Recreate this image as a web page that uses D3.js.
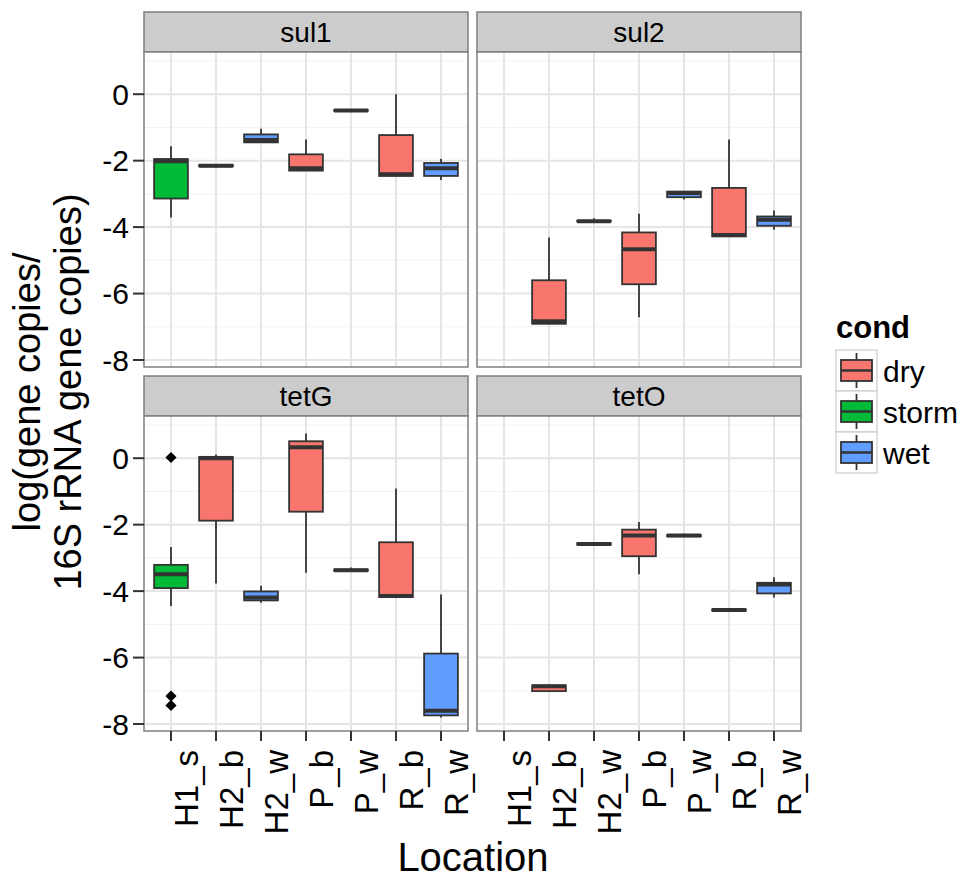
<!DOCTYPE html>
<html>
<head>
<meta charset="utf-8">
<script src="https://cdn.jsdelivr.net/npm/d3@7"></script>
<style>
  body { margin: 0; background: #fff; }
  text { font-family: "Liberation Sans", Arial, sans-serif; fill: #000; }
</style>
</head>
<body>
<svg id="chart" width="967" height="880"></svg>
<script>
// facets, categories and legend
const genes = ['sul1', 'sul2', 'tetG', 'tetO'];
const locations = ['H1_s', 'H2_b', 'H2_w', 'P_b', 'P_w', 'R_b', 'R_w'];
const locationCond = ['storm', 'dry', 'wet', 'dry', 'wet', 'dry', 'wet'];
const conds = ['dry', 'storm', 'wet'];
const condColors = ['#F8766D', '#00BA38', '#619CFF'];
const yTicks = [0, -2, -4, -6, -8];
const yMinor = [1, -1, -3, -5, -7];

// box stats per location: [lower whisker, q1, median, q3, upper whisker]
const sul1Stats = [
  [-3.71, -3.14, -2.02, -1.95, -1.57],
  [-2.17, -2.17, -2.15, -2.13, -2.13],
  [-1.45, -1.45, -1.38, -1.21, -1.04],
  [-2.30, -2.30, -2.23, -1.81, -1.36],
  [-0.50, -0.50, -0.49, -0.48, -0.48],
  [-2.46, -2.46, -2.41, -1.23, 0.00],
  [-2.58, -2.46, -2.23, -2.07, -1.94]
];
const sul2Stats = [
  null,
  [-6.91, -6.91, -6.83, -5.60, -4.31],
  [-3.83, -3.83, -3.82, -3.81, -3.73],
  [-6.71, -5.72, -4.67, -4.16, -3.60],
  [-3.17, -3.10, -2.97, -2.93, -2.93],
  [-4.28, -4.28, -4.24, -2.82, -1.36],
  [-4.08, -3.96, -3.78, -3.68, -3.50]
];
const tetGStats = [
  [-4.45, -3.91, -3.49, -3.21, -2.67],
  [-3.77, -1.88, 0.00, 0.04, 0.11],
  [-4.35, -4.28, -4.19, -4.01, -3.84],
  [-3.45, -1.61, 0.33, 0.51, 0.74],
  [-3.39, -3.39, -3.37, -3.35, -3.29],
  [-4.18, -4.18, -4.15, -2.53, -0.91],
  [-7.80, -7.74, -7.60, -5.88, -4.10]
];
const tetOStats = [
  null,
  [-7.04, -7.01, -6.86, -6.84, -6.84],
  [-2.60, -2.60, -2.58, -2.56, -2.56],
  [-3.49, -2.95, -2.33, -2.15, -1.92],
  [-2.35, -2.35, -2.33, -2.31, -2.27],
  [-4.59, -4.59, -4.57, -4.55, -4.55],
  [-4.19, -4.07, -3.80, -3.75, -3.58]
];
const tetGOutliersH1s = [0.02, -7.16, -7.44];

const statsByGene = [sul1Stats, sul2Stats, tetGStats, tetOStats];
const outliersByGene = [[], [], tetGOutliersH1s.map(v => ({loc: 'H1_s', v})), []];

const svg = d3.select('#chart');
const color = d3.scaleOrdinal().domain(conds).range(condColors);

const colX = [144, 477], panelW = 324;
const rowY = [12, 376], stripH = 40, panelH = 315;
const outline = '#333333';
const dot = d3.symbol().type(d3.symbolSquare).size(62);

genes.forEach((gene, gi) => {
  const col = gi % 2, row = Math.floor(gi / 2);
  const x0 = colX[col], top = rowY[row] + stripH, bottom = top + panelH;
  const x = d3.scalePoint().domain(locations).range([x0, x0 + panelW]).padding(0.6);
  const y = d3.scaleLinear().domain([-8.21, 1.27]).range([bottom, top]);
  const bw = x.step() * 0.75;
  const g = svg.append('g');

  // strip
  g.append('rect').attr('x', x0).attr('y', rowY[row]).attr('width', panelW).attr('height', stripH)
    .attr('fill', '#cccccc').attr('stroke', '#7f7f7f').attr('stroke-width', 1.5);
  g.append('text').attr('x', x0 + panelW / 2).attr('y', rowY[row] + stripH / 2 + 10)
    .attr('text-anchor', 'middle').style('font-size', '28px').text(gene);

  // panel + grid
  g.append('rect').attr('x', x0).attr('y', top).attr('width', panelW).attr('height', panelH).attr('fill', '#fff');
  g.selectAll('.minor').data(yMinor).enter().append('line')
    .attr('x1', x0).attr('x2', x0 + panelW).attr('y1', d => y(d)).attr('y2', d => y(d))
    .attr('stroke', '#f2f2f2').attr('stroke-width', 1);
  g.selectAll('.majy').data(yTicks).enter().append('line')
    .attr('x1', x0).attr('x2', x0 + panelW).attr('y1', d => y(d)).attr('y2', d => y(d))
    .attr('stroke', '#e5e5e5').attr('stroke-width', 2);
  g.selectAll('.majx').data(locations).enter().append('line')
    .attr('x1', d => x(d)).attr('x2', d => x(d)).attr('y1', top).attr('y2', bottom)
    .attr('stroke', '#e5e5e5').attr('stroke-width', 2);

  // boxes
  const boxes = statsByGene[gi].map((s, i) => s && {loc: locations[i], cond: locationCond[i], s}).filter(Boolean);
  const bg = g.selectAll('.box').data(boxes).enter().append('g');
  bg.append('line').attr('x1', d => x(d.loc)).attr('x2', d => x(d.loc))
    .attr('y1', d => y(d.s[4])).attr('y2', d => y(d.s[3]))
    .attr('stroke', outline).attr('stroke-width', 1.8);
  bg.append('line').attr('x1', d => x(d.loc)).attr('x2', d => x(d.loc))
    .attr('y1', d => y(d.s[1])).attr('y2', d => y(d.s[0]))
    .attr('stroke', outline).attr('stroke-width', 1.8);
  bg.append('rect').attr('x', d => x(d.loc) - bw / 2).attr('width', bw)
    .attr('y', d => y(d.s[3])).attr('height', d => y(d.s[1]) - y(d.s[3]))
    .attr('fill', d => color(d.cond)).attr('stroke', outline).attr('stroke-width', 1.8);
  bg.append('line').attr('x1', d => x(d.loc) - bw / 2).attr('x2', d => x(d.loc) + bw / 2)
    .attr('y1', d => y(d.s[2])).attr('y2', d => y(d.s[2]))
    .attr('stroke', outline).attr('stroke-width', 4);

  g.selectAll('.out').data(outliersByGene[gi]).enter().append('path')
    .attr('d', dot)
    .attr('transform', d => `translate(${x(d.loc)},${y(d.v)}) rotate(45)`)
    .attr('fill', '#000');

  g.append('rect').attr('x', x0).attr('y', top).attr('width', panelW).attr('height', panelH)
    .attr('fill', 'none').attr('stroke', '#7f7f7f').attr('stroke-width', 1.5);

  // y axis on left column
  if (col === 0) {
    const ya = g.selectAll('.yt').data(yTicks).enter().append('g');
    ya.append('line').attr('x1', x0 - 11).attr('x2', x0).attr('y1', d => y(d)).attr('y2', d => y(d))
      .attr('stroke', outline).attr('stroke-width', 2);
    ya.append('text').attr('x', x0 - 15).attr('y', d => y(d)).attr('dy', '0.36em')
      .attr('text-anchor', 'end').style('font-size', '30px').text(d => d);
  }
  // x axis on bottom row
  if (row === 1) {
    const xa = g.selectAll('.xt').data(locations).enter().append('g');
    xa.append('line').attr('x1', d => x(d)).attr('x2', d => x(d)).attr('y1', bottom).attr('y2', bottom + 10)
      .attr('stroke', outline).attr('stroke-width', 2);
    xa.append('text').attr('transform', d => `translate(${x(d) + 27},${bottom + 19}) rotate(-90)`)
      .attr('text-anchor', 'end').style('font-size', '33px').text(d => d);
  }
});

// axis titles
svg.append('text').attr('x', 473).attr('y', 871).attr('text-anchor', 'middle')
  .style('font-size', '40px').text('Location');
const yTitle = svg.append('text').attr('transform', 'translate(40,392) rotate(-90)')
  .attr('text-anchor', 'middle').style('font-size', '38px');
yTitle.append('tspan').attr('x', 0).attr('y', 0).text('log(gene copies/');
yTitle.append('tspan').attr('x', 0).attr('y', 41).text('16S rRNA gene copies)');

// legend
const lg = svg.append('g').attr('transform', 'translate(836,350)');
const key = 41;
lg.append('text').attr('x', 0).attr('y', -12).style('font-size', '31px').style('font-weight', 'bold').text('cond');
const items = lg.selectAll('.item').data(conds).enter().append('g')
  .attr('transform', (d, i) => `translate(0,${i * key})`);
items.append('rect').attr('width', key).attr('height', key).attr('fill', '#fff')
  .attr('stroke', '#cccccc').attr('stroke-width', 1.2);
items.append('line').attr('x1', key / 2).attr('x2', key / 2).attr('y1', 3).attr('y2', key - 3)
  .attr('stroke', outline).attr('stroke-width', 1.8);
items.append('rect').attr('x', 5).attr('y', 10).attr('width', key - 10).attr('height', key - 20)
  .attr('fill', d => color(d)).attr('stroke', outline).attr('stroke-width', 1.8);
items.append('line').attr('x1', 5).attr('x2', key - 5).attr('y1', key / 2).attr('y2', key / 2)
  .attr('stroke', outline).attr('stroke-width', 2.5);
items.append('text').attr('x', key + 6).attr('y', key / 2 + 11).style('font-size', '30px').text(d => d);
</script>
</body>
</html>
